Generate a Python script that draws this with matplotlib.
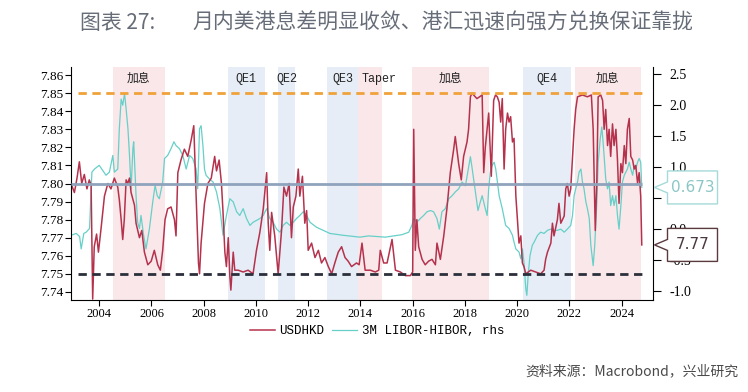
import numpy as np
import matplotlib
matplotlib.use("Agg")
import matplotlib.pyplot as plt
from matplotlib.patches import Polygon
from matplotlib.transforms import IdentityTransform

# USDHKD (lhs), decimal years
usdhkd_t = [2002.92, 2003.05, 2003.15, 2003.24, 2003.33, 2003.43, 2003.53, 2003.62, 2003.69, 2003.75, 2003.81, 2003.9, 2003.97,
            2004.07, 2004.2, 2004.33, 2004.45, 2004.58, 2004.71, 2004.77, 2004.84, 2004.9, 2004.96, 2005.03, 2005.09, 2005.16,
            2005.22, 2005.35, 2005.41, 2005.54, 2005.63, 2005.73, 2005.86, 2005.99, 2006.11, 2006.24, 2006.34, 2006.43, 2006.52,
            2006.62, 2006.75, 2006.88, 2006.94, 2007.01, 2007.13, 2007.26, 2007.39, 2007.52, 2007.62, 2007.71, 2007.8, 2007.84,
            2007.9, 2008.03, 2008.16, 2008.29, 2008.42, 2008.49, 2008.59, 2008.68, 2008.74, 2008.81, 2008.87, 2008.94, 2009.0,
            2009.04, 2009.13, 2009.19, 2009.32, 2009.51, 2009.7, 2009.89, 2010.02, 2010.15, 2010.28, 2010.41, 2010.47, 2010.53,
            2010.6, 2010.72, 2010.85, 2010.98, 2011.07, 2011.17, 2011.27, 2011.36, 2011.43, 2011.53, 2011.62, 2011.68, 2011.78,
            2011.87, 2011.94, 2012.0, 2012.13, 2012.26, 2012.39, 2012.51, 2012.64, 2012.77, 2012.9, 2013.02, 2013.15, 2013.28,
            2013.41, 2013.53, 2013.66, 2013.85, 2013.95, 2014.06, 2014.18, 2014.38, 2014.57, 2014.7, 2014.76, 2014.89, 2015.02,
            2015.21, 2015.34, 2015.53, 2015.72, 2015.91, 2016.0, 2016.04, 2016.1, 2016.16, 2016.23, 2016.36, 2016.48, 2016.61,
            2016.74, 2016.87, 2016.93, 2017.06, 2017.19, 2017.31, 2017.44, 2017.57, 2017.63, 2017.76, 2017.86, 2017.95, 2018.08,
            2018.14, 2018.21, 2018.27, 2018.46, 2018.66, 2018.72, 2018.78, 2018.91, 2019.01, 2019.1, 2019.17, 2019.24, 2019.31,
            2019.37, 2019.43, 2019.5, 2019.56, 2019.63, 2019.69, 2019.75, 2019.82, 2019.88, 2019.95, 2020.01, 2020.07, 2020.14,
            2020.2, 2020.26, 2020.33, 2020.52, 2020.71, 2020.9, 2021.03, 2021.09, 2021.16, 2021.29, 2021.35, 2021.41, 2021.54,
            2021.6, 2021.67, 2021.8, 2021.86, 2021.92, 2021.99, 2022.05, 2022.12, 2022.18, 2022.24, 2022.31, 2022.5, 2022.69,
            2022.84, 2022.91, 2022.95, 2022.99, 2023.05, 2023.1, 2023.2, 2023.27, 2023.33, 2023.39, 2023.46, 2023.52, 2023.58,
            2023.65, 2023.71, 2023.78, 2023.84, 2023.9, 2023.97, 2024.03, 2024.1, 2024.16, 2024.22, 2024.29, 2024.35, 2024.42,
            2024.48, 2024.54, 2024.61, 2024.67, 2024.73, 2024.77]
usdhkd_v = [7.800, 7.795, 7.803, 7.812, 7.800, 7.805, 7.797, 7.802, 7.799, 7.736, 7.765, 7.772, 7.762,
            7.775, 7.793, 7.800, 7.797, 7.803, 7.798, 7.791, 7.780, 7.769, 7.780, 7.802, 7.800, 7.803,
            7.795, 7.788, 7.778, 7.770, 7.774, 7.762, 7.755, 7.757, 7.763, 7.755, 7.752, 7.763, 7.780,
            7.786, 7.787, 7.780, 7.771, 7.806, 7.813, 7.819, 7.815, 7.824, 7.832, 7.793, 7.756, 7.750,
            7.767, 7.789, 7.800, 7.803, 7.815, 7.807, 7.813, 7.800, 7.784, 7.762, 7.754, 7.770, 7.749,
            7.741, 7.762, 7.752, 7.752, 7.751, 7.752, 7.750, 7.763, 7.773, 7.786, 7.806, 7.778, 7.763,
            7.784, 7.771, 7.750, 7.774, 7.798, 7.793, 7.800, 7.770, 7.787, 7.793, 7.808, 7.793, 7.804,
            7.778, 7.785, 7.763, 7.767, 7.759, 7.763, 7.756, 7.759, 7.754, 7.750, 7.756, 7.762, 7.765,
            7.759, 7.757, 7.754, 7.756, 7.755, 7.767, 7.752, 7.752, 7.751, 7.752, 7.763, 7.756, 7.756,
            7.769, 7.752, 7.751, 7.749, 7.749, 7.751, 7.830, 7.763, 7.780, 7.765, 7.758, 7.755, 7.757,
            7.758, 7.755, 7.767, 7.758, 7.771, 7.786, 7.806, 7.819, 7.826, 7.811, 7.802, 7.815, 7.823,
            7.830, 7.848, 7.850, 7.847, 7.849, 7.806, 7.820, 7.839, 7.804, 7.846, 7.849, 7.848, 7.845,
            7.834, 7.847, 7.808, 7.830, 7.839, 7.834, 7.837, 7.823, 7.825, 7.793, 7.780, 7.767, 7.771,
            7.756, 7.754, 7.750, 7.752, 7.751, 7.750, 7.752, 7.758, 7.762, 7.767, 7.778, 7.771, 7.780,
            7.789, 7.778, 7.782, 7.797, 7.800, 7.793, 7.797, 7.815, 7.830, 7.841, 7.848, 7.849, 7.848,
            7.849, 7.830, 7.802, 7.774, 7.802, 7.848, 7.849, 7.846, 7.830, 7.841, 7.821, 7.830, 7.815,
            7.833, 7.821, 7.830, 7.813, 7.789, 7.811, 7.806, 7.821, 7.811, 7.830, 7.836, 7.815, 7.813,
            7.808, 7.810, 7.800, 7.806, 7.793, 7.766]

# 3M LIBOR-HIBOR (rhs, %)
spread_t = [2002.92, 2003.12, 2003.25, 2003.31, 2003.41, 2003.5, 2003.63, 2003.72, 2003.82, 2004.0, 2004.13, 2004.26, 2004.39,
            2004.52, 2004.58, 2004.71, 2004.77, 2004.84, 2004.9, 2004.97, 2005.03, 2005.1, 2005.16, 2005.22, 2005.29, 2005.32,
            2005.41, 2005.47, 2005.54, 2005.6, 2005.7, 2005.79, 2005.92, 2006.05, 2006.14, 2006.22, 2006.3, 2006.43, 2006.5,
            2006.62, 2006.75, 2006.86, 2006.94, 2007.07, 2007.2, 2007.33, 2007.46, 2007.58, 2007.71, 2007.77, 2007.84, 2007.9,
            2007.97, 2008.03, 2008.09, 2008.22, 2008.36, 2008.49, 2008.62, 2008.74, 2008.87, 2009.0, 2009.13, 2009.26, 2009.38,
            2009.51, 2009.64, 2009.77, 2009.89, 2010.15, 2010.28, 2010.41, 2010.53, 2010.66, 2010.79, 2010.92, 2011.04, 2011.17,
            2011.3, 2011.43, 2011.55, 2011.68, 2011.81, 2011.94, 2012.07, 2012.32, 2012.58, 2012.83, 2013.34, 2013.98, 2014.31,
            2014.95, 2015.59, 2015.85, 2015.97, 2016.04, 2016.16, 2016.29, 2016.42, 2016.55, 2016.68, 2016.8, 2016.93, 2017.02,
            2017.12, 2017.25, 2017.38, 2017.51, 2017.63, 2017.76, 2017.89, 2018.02, 2018.14, 2018.21, 2018.27, 2018.4, 2018.5,
            2018.59, 2018.66, 2018.78, 2018.85, 2018.91, 2018.97, 2019.04, 2019.12, 2019.18, 2019.31, 2019.43, 2019.56, 2019.69,
            2019.82, 2019.88, 2019.95, 2020.07, 2020.14, 2020.2, 2020.26, 2020.33, 2020.37, 2020.42, 2020.49, 2020.58, 2020.65,
            2020.78, 2020.9, 2021.03, 2021.16, 2021.29, 2021.41, 2021.54, 2021.67, 2021.8, 2021.92, 2022.05, 2022.12, 2022.18,
            2022.24, 2022.31, 2022.37, 2022.44, 2022.5, 2022.56, 2022.63, 2022.69, 2022.76, 2022.82, 2022.91, 2022.97, 2023.05,
            2023.1, 2023.18, 2023.24, 2023.3, 2023.39, 2023.46, 2023.52, 2023.58, 2023.65, 2023.71, 2023.78, 2023.84, 2023.9,
            2023.97, 2024.03, 2024.1, 2024.16, 2024.22, 2024.29, 2024.35, 2024.42, 2024.48, 2024.54, 2024.61, 2024.67, 2024.73,
            2024.77]
spread_v = [-0.10, -0.07, -0.12, -0.32, -0.07, -0.05, 0.01, 0.92, 0.97, 1.03, 0.95, 0.87, 0.92,
            1.19, 0.92, 0.97, 1.62, 2.10, 2.00, 2.19, 1.94, 1.62, 1.19, 0.65, 1.30, 1.41,
            0.54, 0.11, 0.01, 0.22, -0.10, -0.32, 0.00, 0.44, 0.71, 0.54, 0.49, 0.76, 1.14,
            1.19, 1.30, 1.41, 1.35, 1.30, 1.19, 0.97, 1.19, 1.14, 0.97, 0.65, 1.62, 1.67,
            1.35, 0.97, 0.87, 0.81, 0.76, 0.60, 0.33, -0.10, 0.22, 0.49, 0.44, 0.28, 0.22,
            0.33, 0.17, 0.06, 0.11, 0.17, 0.22, 0.33, 0.17, 0.11, 0.00, -0.05, 0.06, 0.11,
            0.06, 0.11, 0.17, 0.22, 0.28, 0.22, 0.11, 0.03, -0.02, -0.07, -0.10, -0.13, -0.11,
            -0.13, -0.09, -0.05, 0.06, 0.17, 0.11, 0.17, 0.22, 0.28, 0.30, 0.28, 0.17, 0.00,
            0.28, 0.33, 0.49, 0.54, 0.60, 0.65, 0.76, 0.70, 1.00, 1.17, 1.00, 0.60, 0.30,
            0.44, 0.54, 0.33, 0.22, 0.65, 0.92, 1.03, 1.08, 0.97, 0.54, 0.33, 0.06, 0.01,
            -0.10, -0.21, -0.32, -0.37, -0.48, -0.32, -0.53, -0.96, -1.07, -0.75, -0.43, -0.26, -0.21,
            -0.10, -0.05, -0.07, -0.02, 0.00, -0.02, -0.02, 0.00, -0.05, 0.00, 0.06, 0.22, 0.54,
            0.65, 0.76, 0.92, 0.97, 0.76, 0.65, 0.44, 0.33, 0.17, -0.26, -0.59, -0.26, 0.44,
            1.08, 1.46, 1.65, 1.35, 0.81, 0.65, 0.76, 0.38, 0.54, 0.38, 0.54, 0.22, 0.00,
            0.38, 0.76, 0.87, 0.92, 0.97, 1.08, 0.97, 0.87, 1.03, 0.97, 1.08, 1.14, 1.08,
            0.673]

# Fed policy periods (start, end, label, kind)
period_start = [2004.51, 2008.92, 2010.86, 2012.72, 2013.92, 2015.98, 2020.22, 2022.2]
period_end = [2006.52, 2010.34, 2011.5, 2013.92, 2014.82, 2018.92, 2022.07, 2024.74]
period_label = ['加息', 'QE1', 'QE2', 'QE3', 'Taper', '加息', 'QE4', '加息']
period_kind = ['hike', 'qe', 'qe', 'qe', 'hike', 'hike', 'qe', 'hike']

peg_strong, peg_center, peg_weak = 7.75, 7.80, 7.85
years = list(range(2004, 2025, 2))
left_ticks = [7.74, 7.75, 7.76, 7.77, 7.78, 7.79, 7.80, 7.81, 7.82, 7.83, 7.84, 7.85, 7.86]
right_ticks = [-1.0, -0.5, 0.0, 0.5, 1.0, 1.5, 2.0, 2.5]

red = '#b5324d'
teal = '#66d0c8'
shade = {'hike': '#f9e7e9', 'qe': '#e6edf6'}
cjk = ['Noto Sans CJK SC', 'DejaVu Sans']
mono = ['Liberation Mono', 'Noto Sans CJK SC']
serif = 'Liberation Serif'

W, H = 748, 392
fig = plt.figure(figsize=(W / 100, H / 100), dpi=100)
ax2 = fig.add_axes([71 / W, 1 - 300 / H, (653 - 71) / W, (300 - 67) / H])
ax = fig.add_axes(ax2.get_position(), sharex=ax2)
ax.set_zorder(2)
ax.patch.set_visible(False)
ax2.set_zorder(1)
ax2.yaxis.tick_right()

# shaded periods, under everything
for s, e, k in zip(period_start, period_end, period_kind):
    ax2.axvspan(s, e, color=shade[k], lw=0, zorder=0)

l2, = ax2.plot(spread_t, spread_v, color=teal, lw=0.9, zorder=2, label='3M LIBOR-HIBOR, rhs')
l1, = ax.plot(usdhkd_t, usdhkd_v, color=red, lw=1.1, zorder=2, label='USDHKD')

x0, x1 = 2003.18, usdhkd_t[-1]
ax.hlines(peg_weak, x0, x1, colors='#f0a23a', lw=2, linestyles=(0, (3, 2)), zorder=3)
ax.hlines(peg_strong, x0, x1, colors='#2b2f3b', lw=2, linestyles=(0, (3, 2)), zorder=3)
ax.hlines(peg_center, usdhkd_t[0], x1, colors='#8fa3bc', lw=2, zorder=3)

for s, e, lab in zip(period_start, period_end, period_label):
    fam = cjk if lab == '加息' else mono
    if lab == 'Taper':
        ax.text(s + 0.12, 7.858, lab, ha='left', va='center', fontsize=8.5, family=fam, color='#222222')
    else:
        ax.text((s + e) / 2, 7.858, lab, ha='center', va='center', fontsize=8.5, family=fam, color='#222222')

ax.set_xlim(2002.92, 2025.2)
ax.set_ylim(7.7355, 7.8645)
ax2.set_ylim(-1.145, 2.618)

ax.set_xticks(years)
ax.set_xticklabels([str(y) for y in years], fontsize=9, family=serif)
ax.set_yticks(left_ticks)
ax.set_yticklabels(['%.2f' % v for v in left_ticks], fontsize=9.5, family=serif)
ax2.set_yticks(right_ticks)
ax2.set_yticklabels(['%.1f' % v for v in right_ticks], fontsize=10, family=serif)
ax.tick_params(axis='y', length=4, pad=1.5, direction='out')
ax.tick_params(axis='x', length=4, pad=2, direction='out')
ax2.tick_params(axis='y', length=6, pad=6, direction='out')
ax2.tick_params(axis='x', bottom=False, labelbottom=False)

for sp in ['top', 'right']:
    ax.spines[sp].set_visible(False)
for sp in ['top', 'left', 'bottom']:
    ax2.spines[sp].set_visible(False)

fig.legend([l1, l2], ['USDHKD', '3M LIBOR-HIBOR, rhs'], loc='center', bbox_to_anchor=(377 / W, 1 - 331 / H),
           ncol=2, frameon=False, handlelength=2.0, handletextpad=0.4, columnspacing=0.6,
           prop={'family': 'Liberation Mono', 'size': 9})


# last value call-out boxes on the right
def callout(axis, value, text, edge, tcolor):
    tip_x = axis.transAxes.transform((1, 0))[0] + 1.5
    tip_y = axis.transData.transform((2024, value))[1]
    pts = [(0, 0), (13, 5.5), (13, 16.5), (63, 16.5), (63, -16.5), (13, -16.5), (13, -5.5)]
    poly = Polygon([(tip_x + a, tip_y + b) for a, b in pts], closed=True, transform=IdentityTransform(),
                   facecolor='white', edgecolor=edge, lw=1.0, zorder=5)
    fig.add_artist(poly)
    fig.text(tip_x + 38, tip_y, text, transform=IdentityTransform(), ha='center', va='center',
             fontsize=11, color=tcolor, zorder=6)


callout(ax2, spread_v[-1], '%.3f' % spread_v[-1], '#a6dada', '#8cc6c6')
callout(ax, usdhkd_v[-1], '%.2f' % usdhkd_v[-1], '#5a3a3e', '#4a3a3e')

fig.text(80 / W, 1 - 23 / H, '图表 27:', ha='left', va='center', fontsize=15, color='#676d78',
         family=cjk, fontweight='medium')
fig.text(192 / W, 1 - 23 / H, '月内美港息差明显收敛、港汇迅速向强方兑换保证靠拢', ha='left', va='center',
         fontsize=15, color='#676d78', family=cjk, fontweight='medium')
fig.text(738 / W, 1 - 371 / H, '资料来源：Macrobond，兴业研究', ha='right', va='center', fontsize=10,
         color='#4a4a4a', family=cjk)

fig.savefig('out.png', dpi=100)
